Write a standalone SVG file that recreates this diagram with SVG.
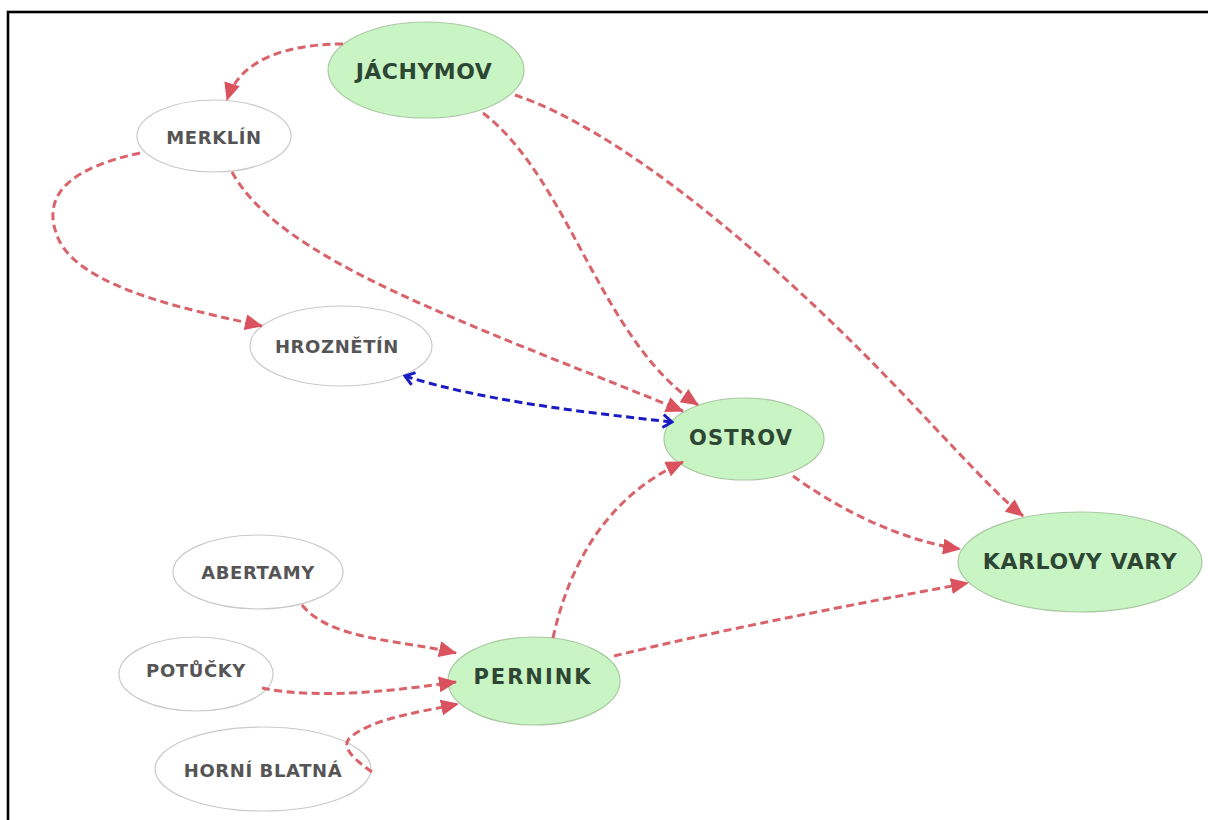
<svg xmlns="http://www.w3.org/2000/svg" width="1208" height="820" viewBox="0 0 1208 820">
<style>
.g{fill:#c9f4c3;stroke:#a9c9a3;stroke-width:1.2}
.w{fill:#ffffff;stroke:#c9c9c9;stroke-width:1.2}
.tg{font-family:"DejaVu Sans",Verdana,sans-serif;font-weight:bold;fill:#2e4634;text-anchor:middle;dominant-baseline:central}
.tw{font-family:"DejaVu Sans",Verdana,sans-serif;font-weight:bold;fill:#555555;text-anchor:middle;dominant-baseline:central;font-size:18px;letter-spacing:0.6px}
.e{fill:none;stroke:#d8636b;stroke-width:3;stroke-dasharray:8 4.5;marker-end:url(#ah)}
.b{fill:none;stroke:#1b1bc4;stroke-width:3;stroke-dasharray:8 4.5;marker-end:url(#ob);marker-start:url(#obs)}
</style>
<defs>
<marker id="ah" markerUnits="userSpaceOnUse" markerWidth="18" markerHeight="16" refX="17" refY="8" orient="auto">
<path d="M0,0 L18,8 L0,16 Z" fill="#d9525d"/>
</marker>
<marker id="ob" markerUnits="userSpaceOnUse" markerWidth="13" markerHeight="16" refX="11" refY="8" orient="auto">
<path d="M2,1.5 L11,8 L2,14.5" fill="none" stroke="#1b1bc4" stroke-width="3"/>
</marker>
<marker id="obs" markerUnits="userSpaceOnUse" markerWidth="13" markerHeight="16" refX="2" refY="8" orient="auto">
<path d="M11,1.5 L2,8 L11,14.5" fill="none" stroke="#1b1bc4" stroke-width="3"/>
</marker>
</defs>
<rect x="0" y="0" width="1208" height="820" fill="#ffffff"/>
<rect x="8" y="12" width="1215" height="830" fill="none" stroke="#000000" stroke-width="2.6"/>
<g id="n-jachymov"><ellipse class="g" cx="426" cy="70" rx="98" ry="48"/><text class="tg" x="424" y="71" font-size="22" letter-spacing="0.5">JÁCHYMOV</text></g>
<g id="n-merklin"><ellipse class="w" cx="214" cy="136" rx="77" ry="36"/><text class="tw" x="214" y="137">MERKLÍN</text></g>
<g id="n-hroznetin"><ellipse class="w" cx="341" cy="346" rx="91" ry="40"/><text class="tw" x="337" y="346">HROZNĚTÍN</text></g>
<g id="n-ostrov"><ellipse class="g" cx="744" cy="439" rx="80" ry="41"/><text class="tg" x="741" y="438" font-size="21" letter-spacing="1.2">OSTROV</text></g>
<g id="n-karlovy-vary"><ellipse class="g" cx="1080" cy="562" rx="122" ry="50"/><text class="tg" x="1080" y="561" font-size="22" letter-spacing="0.6">KARLOVY VARY</text></g>
<g id="n-abertamy"><ellipse class="w" cx="258" cy="572" rx="85" ry="37"/><text class="tw" x="258" y="572">ABERTAMY</text></g>
<g id="n-potucky"><ellipse class="w" cx="196" cy="674" rx="77" ry="37"/><text class="tw" x="196" y="670">POTŮČKY</text></g>
<g id="n-horni-blatna"><ellipse class="w" cx="263" cy="769" rx="108" ry="42"/><text class="tw" x="263" y="770">HORNÍ BLATNÁ</text></g>
<g id="n-pernink"><ellipse class="g" cx="534" cy="681" rx="86" ry="44"/><text class="tg" x="533" y="677" font-size="21" letter-spacing="2">PERNINK</text></g>
<g id="connectors">
<path class="e" d="M343,44 C290,44 240,58 227,100"/>
<path class="e" d="M140,153 C70,168 40,195 58,238 C80,290 200,312 262,326"/>
<path class="e" d="M232,172 C280,260 460,320 683,411"/>
<path class="e" d="M483,113 C570,180 600,340 698,405"/>
<path class="e" d="M515,95 C620,130 760,250 860,350 C930,420 990,490 1023,516"/>
<path class="b" d="M405,376 C480,400 580,412 672,422"/>
<path class="e" d="M793,476 C840,510 900,540 960,549"/>
<path class="e" d="M553,638 C570,560 610,495 683,462"/>
<path class="e" d="M614,656 C720,630 850,605 968,583"/>
<path class="e" d="M302,605 C330,640 400,640 456,653"/>
<path class="e" d="M262,688 C320,700 400,690 456,682"/>
<path class="e" d="M372,772 C355,760 338,746 352,736 C375,718 420,712 458,704"/>
</g>
</svg>
